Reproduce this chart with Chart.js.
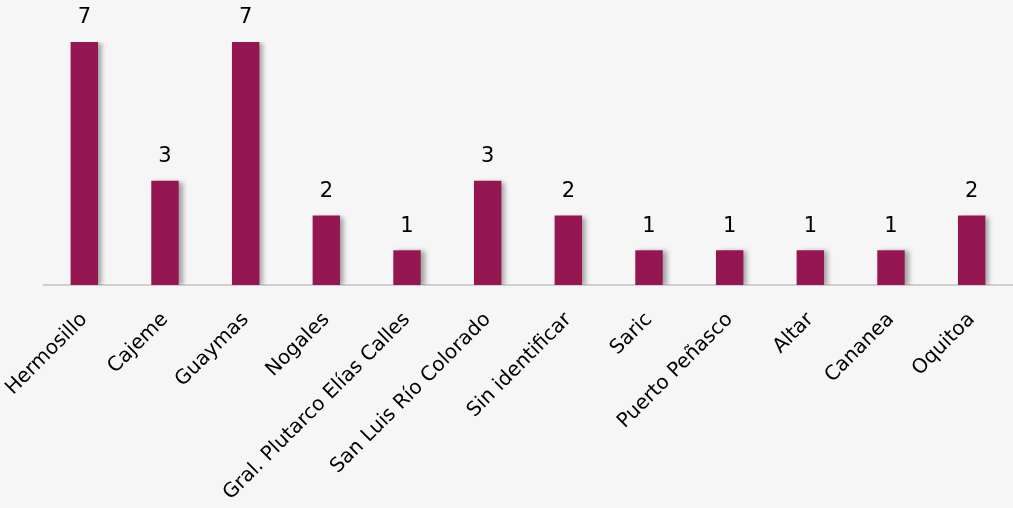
<!DOCTYPE html>
<html>
<head>
<meta charset="utf-8">
<script src="https://cdn.jsdelivr.net/npm/chart.js@4"></script>
<style>
  html, body { margin: 0; padding: 0; background: #f6f6f6; }
  #wrap { width: 1013px; height: 508px; }
</style>
</head>
<body>
<div id="wrap"><canvas id="myChart" width="1013" height="508"></canvas></div>
<script>
// municipios y numero de casos
const municipios = [
    'Hermosillo',
    'Cajeme',
    'Guaymas',
    'Nogales',
    'Gral. Plutarco Elías Calles',
    'San Luis Río Colorado',
    'Sin identificar',
    'Saric',
    'Puerto Peñasco',
    'Altar',
    'Cananea',
    'Oquitoa',
]
const casos = [7, 3, 7, 2, 1, 3, 2, 1, 1, 1, 1, 2]

const barColor = '#941751'

// sombra gris a la derecha de las barras
const barShadow = {
    id: 'barShadow',
    beforeDatasetsDraw(chart) {
        const c = chart.ctx
        c.save()
        c.shadowColor = 'rgba(0,0,0,0.35)'
        c.shadowBlur = 5
        c.shadowOffsetX = 4
        c.shadowOffsetY = 1
    },
    afterDatasetsDraw(chart) {
        chart.ctx.restore()
    }
}

// numero encima de cada barra
const valueLabels = {
    id: 'valueLabels',
    afterDatasetsDraw(chart) {
        const c = chart.ctx
        const meta = chart.getDatasetMeta(0)
        c.save()
        c.font = '21px "DejaVu Sans", Verdana, sans-serif'
        c.fillStyle = '#000'
        c.textAlign = 'center'
        c.textBaseline = 'middle'
        meta.data.forEach((bar, i) => {
            c.fillText(chart.data.datasets[0].data[i], bar.x, bar.y - 24)
        })
        c.restore()
    }
}

const ctx = document.getElementById('myChart').getContext('2d')

const myChart = new Chart(ctx, {
    type: 'bar',
    data: {
        labels: municipios,
        datasets: [{
            data: casos,
            backgroundColor: barColor,
            borderWidth: 0,
            categoryPercentage: 1,
            barPercentage: 0.34,
        }]
    },
    options: {
        responsive: false,
        animation: false,
        layout: { padding: { top: 42, left: 44, right: 1, bottom: 0 } },
        plugins: {
            legend: { display: false },
            tooltip: { enabled: false },
        },
        scales: {
            x: {
                grid: { display: false, drawTicks: false },
                border: { display: true, color: '#d0d0d0', width: 2 },
                ticks: {
                    minRotation: 45,
                    maxRotation: 45,
                    padding: 23,
                    color: '#000',
                    font: { family: '"DejaVu Sans", Verdana, sans-serif', size: 20 },
                },
                afterFit(scale) {
                    scale.height = 223
                    scale.paddingLeft = 0
                    scale.paddingRight = 0
                },
            },
            y: {
                display: false,
                min: 0,
                max: 7,
            }
        }
    },
    plugins: [barShadow, valueLabels]
})
</script>
</body>
</html>
